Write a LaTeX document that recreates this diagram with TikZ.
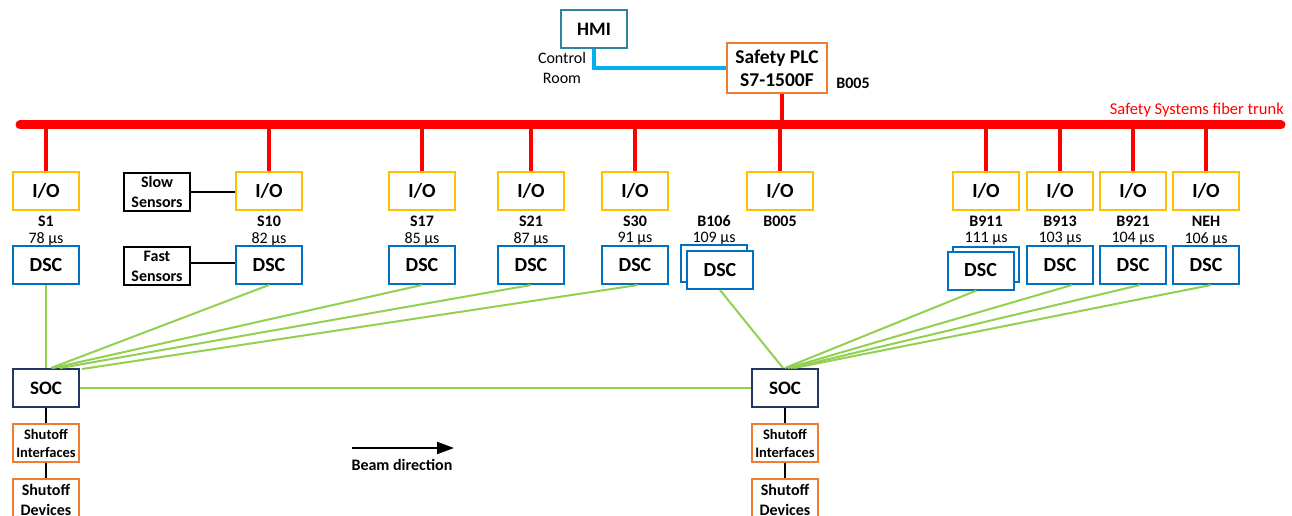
\documentclass[tikz,border=0pt]{standalone}
\usepackage{fontspec}
\setmainfont{Carlito}
\usetikzlibrary{arrows.meta}
\definecolor{ioyellow}{HTML}{FFC000}
\definecolor{dscblue}{HTML}{0070C0}
\definecolor{socnavy}{HTML}{203864}
\definecolor{shutorange}{HTML}{ED7D31}
\definecolor{hmiteal}{HTML}{31849B}
\definecolor{fibergreen}{HTML}{92D050}
\definecolor{hmicyan}{HTML}{00B0F0}
\tikzset{
  box/.style={rectangle,draw,fill=white,line width=2pt,minimum width=66pt,minimum height=38pt,inner sep=0pt,align=center},
  iobox/.style={box,draw=ioyellow,font=\bfseries\fontsize{20}{20}\selectfont},
  dscbox/.style={box,draw=dscblue,font=\bfseries\fontsize{20}{20}\selectfont},
  socbox/.style={box,draw=socnavy,font=\bfseries\fontsize{19}{19}\selectfont},
  sensbox/.style={box,draw=black,font=\bfseries\fontsize{16}{20}\selectfont},
  ifbox/.style={box,draw=shutorange,font=\bfseries\fontsize{14.5}{18}\selectfont},
  devbox/.style={box,draw=shutorange,minimum height=42pt,font=\bfseries\fontsize{16}{20}\selectfont},
  site/.style={inner sep=0pt,font=\bfseries\fontsize{16}{16}\selectfont},
  delay/.style={inner sep=0pt,font=\fontsize{16}{20}\selectfont},
  stub/.style={line width=4pt,color=red},
  fiber/.style={line width=2pt,color=fibergreen},
  wire/.style={line width=1.5pt,color=black},
}
\begin{document}
\begin{tikzpicture}[x=1pt,y=-1pt]
\useasboundingbox (0,0) rectangle (1292,516);
\clip (0,0) rectangle (1292,516);
	% control room and PLC
	\node (HMI) [box,draw=hmiteal,font=\bfseries\fontsize{19}{19}\selectfont] at (594,29) {HMI};
	\node (CR) [delay,align=center] at (562,68) {Control\\Room};
	\node (PLC) [box,draw=shutorange,minimum width=100pt,minimum height=50pt,font=\bfseries\fontsize{19.5}{23}\selectfont] at (777,68) {Safety PLC\\S7-1500F};
	\node (PB) [site] at (853,83) {B005};
	\draw [line width=4pt,color=hmicyan] (HMI.south) |- (PLC.west);

	% fiber trunk
	\coordinate (TL) at (20,125);
	\coordinate (TR) at (1281,125);
	\draw [line width=9pt,color=red,line cap=round] (TL)--(TR);
	\node (TRK) [anchor=east,inner sep=0pt,text=red,font=\fontsize{16.5}{16.5}\selectfont] at (1284,110) {Safety Systems fiber trunk};
	\draw [stub] ([xshift=5pt]PLC.south)--([xshift=5pt]PLC.south |- TL);

	\node (IO1) [iobox] at (46,191) {I/O};
	\node (IO2) [iobox] at (269,191) {I/O};
	\node (IO3) [iobox] at (422,191) {I/O};
	\node (IO4) [iobox] at (531,191) {I/O};
	\node (IO5) [iobox] at (635,191) {I/O};
	\node (IO6) [iobox] at (780,191) {I/O};
	\node (IO7) [iobox] at (986,191) {I/O};
	\node (IO8) [iobox] at (1060,191) {I/O};
	\node (IO9) [iobox] at (1133,191) {I/O};
	\node (IO10) [iobox] at (1206,191) {I/O};
	\draw [stub] (IO1.north)--(IO1.north |- TL);
	\draw [stub] (IO2.north)--(IO2.north |- TL);
	\draw [stub] (IO3.north)--(IO3.north |- TL);
	\draw [stub] (IO4.north)--(IO4.north |- TL);
	\draw [stub] (IO5.north)--(IO5.north |- TL);
	\draw [stub] (IO6.north)--(IO6.north |- TL);
	\draw [stub] (IO7.north)--(IO7.north |- TL);
	\draw [stub] (IO8.north)--(IO8.north |- TL);
	\draw [stub] (IO9.north)--(IO9.north |- TL);
	\draw [stub] (IO10.north)--(IO10.north |- TL);

	\node (L1) [site] at (46,221) {S1};
	\node (L2) [site] at (269,221) {S10};
	\node (L3) [site] at (422,221) {S17};
	\node (L4) [site] at (531,221) {S21};
	\node (L5) [site] at (635,221) {S30};
	\node (L6) [site] at (714,221) {B106};
	\node (L7) [site] at (780,221) {B005};
	\node (L8) [site] at (986,221) {B911};
	\node (L9) [site] at (1060,221) {B913};
	\node (L10) [site] at (1133,221) {B921};
	\node (L11) [site] at (1206,221) {NEH};
	\node (T1) [delay] at (46,239) {78 µs};
	\node (T2) [delay] at (269,239) {82 µs};
	\node (T3) [delay] at (422,239) {85 µs};
	\node (T4) [delay] at (531,239) {87 µs};
	\node (T5) [delay] at (635,239) {91 µs};
	\node (T6) [delay] at (714,239) {109 µs};
	\node (T8) [delay] at (986,239) {111 µs};
	\node (T9) [delay] at (1060,239) {103 µs};
	\node (T10) [delay] at (1133,239) {104 µs};
	\node (T11) [delay] at (1206,239) {106 µs};

	\node (D1) [dscbox] at (46,265) {DSC};
	\node (D2) [dscbox] at (269,265) {DSC};
	\node (D3) [dscbox] at (422,265) {DSC};
	\node (D4) [dscbox] at (531,265) {DSC};
	\node (D5) [dscbox] at (635,265) {DSC};
	\node (D6b) [dscbox,minimum height=37pt] at (714,263.5) {};
	\node (D6) [dscbox] at (720,270) {DSC};
	\node (D7b) [dscbox,minimum height=35pt] at (986,264.5) {};
	\node (D7) [dscbox] at (980.5,270.5) {DSC};
	\node (D8) [dscbox] at (1060,265) {DSC};
	\node (D9) [dscbox] at (1133,265) {DSC};
	\node (D10) [dscbox] at (1206,265) {DSC};

	\node (SS) [sensbox] at (157,192) {Slow\\Sensors};
	\node (FS) [sensbox] at (157,266) {Fast\\Sensors};
	\draw [wire] (SS.east)--(SS.east -| IO2.west);
	\draw [wire] ([yshift=3pt]FS.east)--([yshift=3pt]FS.east -| D2.west);

	% shutoff chains
	\node (SOC1) [socbox] at (46,388) {SOC};
	\node (SOC2) [socbox] at (785,388) {SOC};
	\node (SI1) [ifbox] at (46,443) {Shutoff\\Interfaces};
	\node (SI2) [ifbox] at (785,443) {Shutoff\\Interfaces};
	\node (SD1) [devbox] at (46,500) {Shutoff\\Devices};
	\node (SD2) [devbox] at (785,500) {Shutoff\\Devices};
	\draw [wire] (SOC1.south)--(SI1.north);
	\draw [wire] (SI1.south)--(SD1.north);
	\draw [wire] (SOC2.south)--(SI2.north);
	\draw [wire] (SI2.south)--(SD2.north);

	\draw [fiber] (D1.south)--(SOC1.north);
	\draw [fiber] (D2.south)--([xshift=5pt]SOC1.north);
	\draw [fiber] (D3.south)--([xshift=7pt]SOC1.north);
	\draw [fiber] (D4.south)--([xshift=14pt]SOC1.north);
	\draw [fiber] ([xshift=3pt]D5.south)--([xshift=36pt,yshift=-1pt]SOC1.north);
	\draw [fiber] (SOC1.east)--(SOC2.west);
	\draw [fiber] (D6.south)--([xshift=-2pt]SOC2.north);
	\draw [fiber] ([xshift=-4pt]D7.south)--(SOC2.north);
	\draw [fiber] ([xshift=12pt]D8.south)--([xshift=3pt]SOC2.north);
	\draw [fiber] ([xshift=7pt]D9.south)--([xshift=6pt]SOC2.north);
	\draw [fiber] ([xshift=5pt]D10.south)--([xshift=9pt]SOC2.north);

	% beam
	\coordinate (BA) at (352,448);
	\coordinate (BB) at (454,448);
	\draw [line width=2pt,-{Triangle[length=17pt,width=12pt]}] (BA)--(BB);
	\node (BD) [site] at (402,465) {Beam direction};
\end{tikzpicture}
\end{document}
